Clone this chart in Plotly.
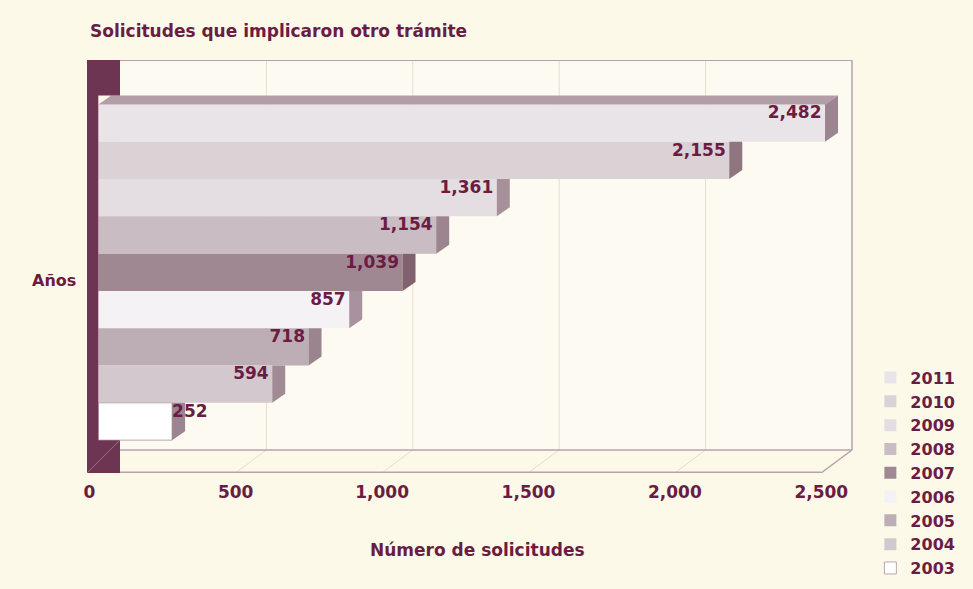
import plotly.graph_objects as go

# Data: requests that involved another procedure, by year
years = ["2003", "2004", "2005", "2006", "2007", "2008", "2009", "2010", "2011"]
solicitudes = [252, 594, 718, 857, 1039, 1154, 1361, 2155, 2482]
bar_colors = ["#ffffff", "#d3c8cd", "#bcaeb4", "#f4f2f5", "#a08893",
              "#c9bcc2", "#e4dde1", "#dbd2d6", "#e9e4e8"]
side_colors = ["#9a8590", "#a08b95", "#9a848e", "#a892a0", "#80616f",
               "#9c8590", "#a6919b", "#8f7580", "#9c8590"]
x_ticks = [0, 500, 1000, 1500, 2000, 2500]
x_tick_labels = ["0", "500", "1,000", "1,500", "2,000", "2,500"]

MAROON = "#6b1c43"
FONT = "DejaVu Sans"
BG = "#fcf9e9"

# Axis ranges and pseudo-3D geometry (in data units)
X_RANGE = [-38.6, 2584.4]
Y_RANGE = [-1.381, 9.692]
DEPTH_X = 44.4          # bar depth, horizontal component
DEPTH_Y = 0.241         # bar depth, vertical component
BACK_X = 74.1           # offset of the back wall from the bar plane
FRONT_X = -31.8         # offset of the floor front edge from the bar plane
FLOOR_BACK_Y = -0.764
FLOOR_FRONT_Y = Y_RANGE[0]
X_MAX = 2500

fig = go.Figure()

shapes = []
edge = "#b7a2ab"
grid = "#e7dccd"
# back wall
shapes.append(dict(type="rect", xref="x", yref="y", x0=BACK_X, x1=X_MAX + BACK_X,
                   y0=FLOOR_BACK_Y, y1=Y_RANGE[1], fillcolor="#fdfbf1",
                   line=dict(width=0), layer="below"))
for t in x_ticks[1:-1]:
    shapes.append(dict(type="line", xref="x", yref="y", x0=t + BACK_X, x1=t + BACK_X,
                       y0=FLOOR_BACK_Y, y1=Y_RANGE[1], line=dict(color=grid, width=1),
                       layer="below"))
    shapes.append(dict(type="line", xref="x", yref="y", x0=t + BACK_X, x1=t + FRONT_X,
                       y0=FLOOR_BACK_Y, y1=FLOOR_FRONT_Y, line=dict(color=grid, width=1),
                       layer="below"))
# outer edges of the back wall and floor
shapes.append(dict(type="line", xref="x", yref="y", x0=BACK_X, x1=X_MAX + BACK_X,
                   y0=Y_RANGE[1], y1=Y_RANGE[1], line=dict(color=edge, width=2), layer="below"))
shapes.append(dict(type="line", xref="x", yref="y", x0=X_MAX + BACK_X, x1=X_MAX + BACK_X,
                   y0=FLOOR_BACK_Y, y1=Y_RANGE[1], line=dict(color=edge, width=1.5), layer="below"))
shapes.append(dict(type="line", xref="x", yref="y", x0=BACK_X, x1=X_MAX + BACK_X,
                   y0=FLOOR_BACK_Y, y1=FLOOR_BACK_Y, line=dict(color=edge, width=1.5), layer="below"))
shapes.append(dict(type="line", xref="x", yref="y", x0=FRONT_X, x1=X_MAX + FRONT_X,
                   y0=FLOOR_FRONT_Y + 0.02, y1=FLOOR_FRONT_Y + 0.02,
                   line=dict(color=edge, width=1.5), layer="below"))
shapes.append(dict(type="line", xref="x", yref="y", x0=X_MAX + BACK_X, x1=X_MAX + FRONT_X,
                   y0=FLOOR_BACK_Y, y1=FLOOR_FRONT_Y, line=dict(color=edge, width=1.5),
                   layer="below"))

# left wall
wall = "#6e3552"
shapes.append(dict(type="rect", xref="x", yref="y", x0=X_RANGE[0], x1=0,
                   y0=FLOOR_FRONT_Y, y1=Y_RANGE[1], fillcolor=wall, line=dict(width=0),
                   layer="above"))
shapes.append(dict(type="rect", xref="x", yref="y", x0=X_RANGE[0], x1=BACK_X,
                   y0=len(years) - 0.5 + DEPTH_Y, y1=Y_RANGE[1], fillcolor=wall,
                   line=dict(width=0), layer="above"))
shapes.append(dict(type="rect", xref="x", yref="y", x0=X_RANGE[0], x1=BACK_X,
                   y0=FLOOR_FRONT_Y, y1=-0.5, fillcolor=wall, line=dict(width=0),
                   layer="above"))
shapes.append(dict(type="line", xref="x", yref="y", x0=X_RANGE[0], x1=BACK_X,
                   y0=FLOOR_FRONT_Y, y1=-0.5, line=dict(color="#9b6f84", width=1),
                   layer="above"))

# front faces of the bars, one trace per year (newest first for the legend)
for i in reversed(range(len(years))):
    fig.add_trace(go.Bar(
        x=[solicitudes[i]], y=[i], orientation="h", width=1,
        name=years[i], legendgroup=years[i],
        marker=dict(color=bar_colors[i],
                    line=dict(width=1 if i == 0 else 0, color="#b9a6af")),
        hoverinfo="x+name",
    ))

# side faces (and the top face of the uppermost bar)
n = len(years)
for i, v in enumerate(solicitudes):
    top = i + 0.5
    bot = i - 0.5
    if i == n - 1:
        xs = [0, v, v + DEPTH_X, DEPTH_X, 0]
        ys = [top, top, top + DEPTH_Y, top + DEPTH_Y, top]
        fig.add_trace(go.Scatter(x=xs, y=ys, fill="toself", mode="lines",
                                 line=dict(width=0), fillcolor="#b39ea7",
                                 showlegend=False, hoverinfo="skip"))
        xs = [v, v + DEPTH_X, v + DEPTH_X, v, v]
        ys = [top, top + DEPTH_Y, bot + DEPTH_Y, bot, top]
    else:
        xs = [v, v + DEPTH_X, v + DEPTH_X, v, v]
        ys = [top, top, bot + DEPTH_Y, bot, top]
    fig.add_trace(go.Scatter(x=xs, y=ys, fill="toself", mode="lines",
                             line=dict(width=0), fillcolor=side_colors[i],
                             showlegend=False, hoverinfo="skip"))

# value labels
lab_x, lab_y, lab_pos = [], [], []
for i, v in enumerate(solicitudes):
    if i == 0:
        lab_x.append(v)
        lab_pos.append("middle right")
    else:
        lab_x.append(v - 12)
        lab_pos.append("middle left")
    lab_y.append(i + 0.24)
fig.add_trace(go.Scatter(
    x=lab_x, y=lab_y, mode="text", text=[f"{v:,}" for v in solicitudes],
    textposition=lab_pos, showlegend=False, hoverinfo="skip",
    textfont=dict(family=FONT, size=17, color=MAROON, weight="bold"),
))

fig.update_layout(
    width=973, height=589,
    margin=dict(l=87, r=118, t=60, b=116, autoexpand=False),
    paper_bgcolor=BG, plot_bgcolor=BG,
    barmode="overlay",
    shapes=shapes,
    title=dict(text="Solicitudes que implicaron otro trámite",
               x=90 / 973, xanchor="left", xref="container",
               y=1 - 31 / 589, yanchor="middle", yref="container",
               font=dict(family=FONT, size=17, color=MAROON, weight="bold")),
    xaxis=dict(range=X_RANGE, tickvals=x_ticks, ticktext=x_tick_labels,
               showgrid=False, zeroline=False, showline=False, ticks="",
               ticklabelshift=-9, ticklabelstandoff=7,
               tickfont=dict(family=FONT, size=17, color=MAROON, weight="bold")),
    yaxis=dict(range=Y_RANGE, showticklabels=False, showgrid=False,
               zeroline=False, showline=False, ticks=""),
    legend=dict(x=1.02, y=0.272, xanchor="left", yanchor="top",
                traceorder="grouped", tracegroupgap=0, bgcolor="rgba(0,0,0,0)",
                font=dict(family=FONT, size=16, color=MAROON, weight="bold")),
    annotations=[
        dict(text="Años", xref="paper", yref="paper", x=-0.074, y=0.467,
             xanchor="left", yanchor="middle", showarrow=False,
             font=dict(family=FONT, size=16, color=MAROON, weight="bold")),
        dict(text="Número de solicitudes", xref="paper", yref="paper",
             x=0.509, y=-0.186, xanchor="center", yanchor="middle", showarrow=False,
             font=dict(family=FONT, size=17, color=MAROON, weight="bold")),
    ],
)

fig.write_html("out.html")
